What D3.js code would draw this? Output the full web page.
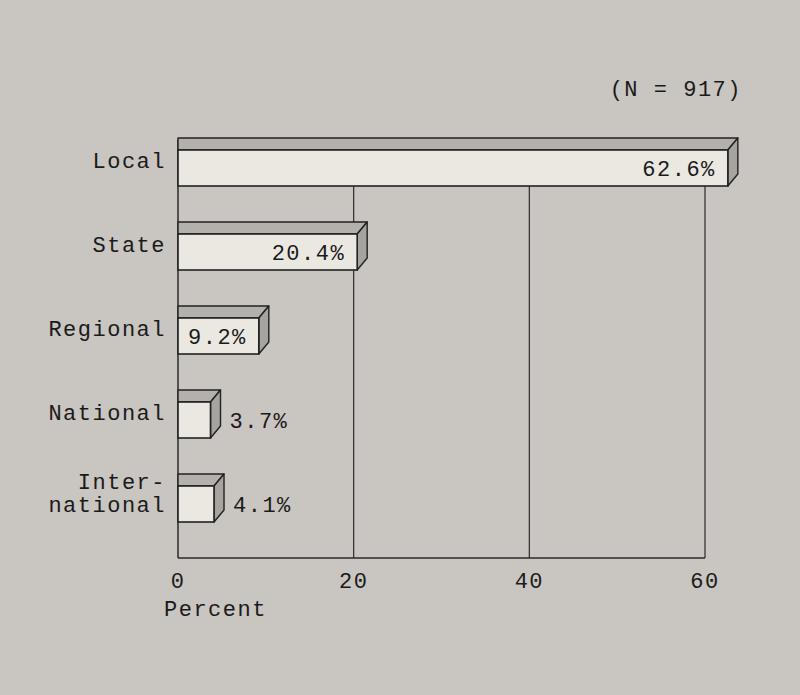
<!DOCTYPE html>
<html>
<head>
<meta charset="utf-8">
<script src="https://cdn.jsdelivr.net/npm/d3@7"></script>
<style>
  body { margin: 0; background: #c9c5c0; }
  svg text { font-family: "Liberation Mono", "DejaVu Sans Mono", monospace; font-size: 22px; letter-spacing: 1.5px; fill: #1a1a1a; }
</style>
</head>
<body>
<svg id="chart"></svg>
<script>
// data
const categories = ["Local", "State", "Regional", "National", "International"];
const labelLines = [["Local"], ["State"], ["Regional"], ["National"], ["Inter-", "national"]];
const percents = [62.6, 20.4, 9.2, 3.7, 4.1];
const xTicks = [0, 20, 40, 60];
const note = "(N = 917)";

const canvWidth = 800;
const canvHeight = 695;

const svg = d3.select("#chart")
    .attr("width", canvWidth)
    .attr("height", canvHeight);

// plot area in page pixels
const plotLeft = 178, plotRight = 705, plotTop = 139, plotBottom = 558;

const x = d3.scaleLinear().domain([0, 60]).range([plotLeft, plotRight]);
const y = d3.scalePoint().domain(categories).range([126, 546]).padding(0.5);

const barH = 36;       // front face height
const dx = 10, dy = 12; // depth of the 3d box
const lineGap = 23;    // spacing for two-line labels

const data = categories.map(function (c, i) {
    return { cat: c, value: percents[i], lines: labelLines[i] };
});

// grid lines at 20,40,60
svg.append("g").selectAll("line")
    .data(xTicks.filter(function (t) { return t > 0; }))
    .enter().append("line")
    .attr("x1", function (d) { return x(d); })
    .attr("x2", function (d) { return x(d); })
    .attr("y1", plotTop + 10)
    .attr("y2", plotBottom)
    .attr("stroke", "#2a2a2a")
    .attr("stroke-width", 1.2);

// left and bottom frame
svg.append("line")
    .attr("x1", plotLeft).attr("x2", plotLeft).attr("y1", plotTop).attr("y2", plotBottom)
    .attr("stroke", "#2a2a2a").attr("stroke-width", 1.5);
svg.append("line")
    .attr("x1", plotLeft).attr("x2", plotRight).attr("y1", plotBottom).attr("y2", plotBottom)
    .attr("stroke", "#2a2a2a").attr("stroke-width", 1.5);

// bars
const bars = svg.append("g").selectAll("g")
    .data(data)
    .enter().append("g");

// top face
bars.append("path")
    .attr("d", function (d) {
        const x0 = x(0), x1 = x(d.value), y0 = y(d.cat) - barH / 2;
        return "M" + x0 + "," + y0 + "L" + x0 + "," + (y0 - dy) + "L" + (x1 + dx) + "," + (y0 - dy) + "L" + x1 + "," + y0 + "Z";
    })
    .attr("fill", "#b4b0ab")
    .attr("stroke", "#222")
    .attr("stroke-width", 1.4)
    .attr("stroke-linejoin", "round");

// side face
bars.append("path")
    .attr("d", function (d) {
        const x1 = x(d.value), y0 = y(d.cat) - barH / 2, y1 = y(d.cat) + barH / 2;
        return "M" + x1 + "," + y0 + "L" + (x1 + dx) + "," + (y0 - dy) + "L" + (x1 + dx) + "," + (y1 - dy) + "L" + x1 + "," + y1 + "Z";
    })
    .attr("fill", "#a7a39e")
    .attr("stroke", "#222")
    .attr("stroke-width", 1.4)
    .attr("stroke-linejoin", "round");

// front face
bars.append("rect")
    .attr("x", x(0))
    .attr("y", function (d) { return y(d.cat) - barH / 2; })
    .attr("width", function (d) { return x(d.value) - x(0); })
    .attr("height", barH)
    .attr("fill", "#ebe8e2")
    .attr("stroke", "#222")
    .attr("stroke-width", 1.6);

// value labels, inside for long bars, outside for short ones
bars.append("text")
    .attr("x", function (d) {
        return d.value > 6 ? x(d.value) - 12 : x(d.value) + dx + 9;
    })
    .attr("y", function (d) { return y(d.cat); })
    .attr("dy", "0.35em")
    .attr("text-anchor", function (d) { return d.value > 6 ? "end" : "start"; })
    .text(function (d) { return d.value.toFixed(1) + "%"; });

// category labels
const catLabels = svg.append("g").selectAll("text")
    .data(data)
    .enter().append("text")
    .attr("text-anchor", "end")
    .attr("x", 166)
    .attr("y", function (d) { return y(d.cat) - (d.lines.length - 1) * 15; })
    .attr("dy", "0.35em");
catLabels.selectAll("tspan")
    .data(function (d) { return d.lines; })
    .enter().append("tspan")
    .attr("x", 166)
    .attr("dy", function (d, i) { return i === 0 ? 0 : lineGap; })
    .text(function (d) { return d; });

// x tick labels
svg.append("g").selectAll("text")
    .data(xTicks)
    .enter().append("text")
    .attr("x", function (d) { return x(d); })
    .attr("y", 580)
    .attr("dy", "0.35em")
    .attr("text-anchor", "middle")
    .text(function (d) { return d; });

// axis title
svg.append("text")
    .attr("x", 164)
    .attr("y", 608)
    .attr("dy", "0.35em")
    .text("Percent");

// sample size note
svg.append("text")
    .attr("x", 742)
    .attr("y", 88)
    .attr("dy", "0.35em")
    .attr("text-anchor", "end")
    .text(note);
</script>
</body>
</html>
